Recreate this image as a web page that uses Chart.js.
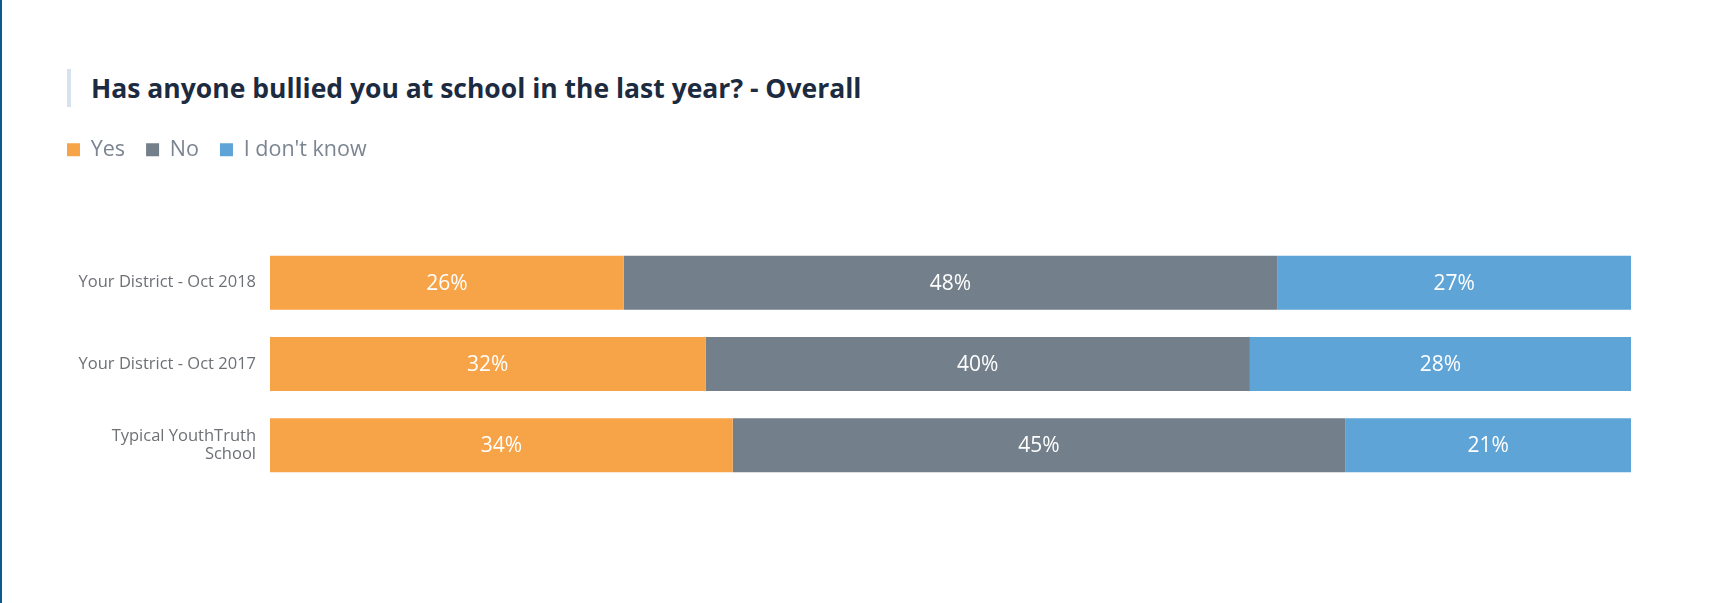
<!DOCTYPE html>
<html>
<head>
<meta charset="utf-8">
<script src="https://cdn.jsdelivr.net/npm/chart.js@4"></script>
<style>
  html, body { margin: 0; padding: 0; background: #fff; }
  body { width: 1729px; height: 603px; position: relative; overflow: hidden; }
  #edge { position: absolute; left: 0; top: 0; width: 2px; height: 603px; background: #0b5c8e; }
  #title {
    position: absolute; left: 67px; top: 69px; height: 38px;
    border-left: 4px solid #d6e3ef; padding-left: 20px;
    font: bold 26.5px/38px "Open Sans", sans-serif; color: #1c2b3f;
    white-space: nowrap;
  }
  #wrap { position: absolute; left: 0; top: 0; width: 1729px; height: 603px; }
</style>
</head>
<body>
<div id="edge"></div>
<div id="title">Has anyone bullied you at school in the last year? - Overall</div>
<div id="wrap"><canvas id="chart"></canvas></div>
<script>
const categories = [
  "Your District - Oct 2018",
  "Your District - Oct 2017",
  ["Typical YouthTruth", "School"],
];
const yesValues = [26, 32, 34];
const noValues = [48, 40, 45];
const dontKnowValues = [27, 28, 21];

const ctx = document.getElementById("chart").getContext("2d");

// keeps a fixed gap between the legend row and the bars
const legendSpacer = {
  id: "legendSpacer",
  beforeInit(chart) {
    const originalFit = chart.legend.fit;
    chart.legend.fit = function fit() {
      originalFit.bind(chart.legend)();
      this.height = 124;
    };
  },
};

// white percentage text in the middle of each segment
const segmentLabels = {
  id: "segmentLabels",
  afterDatasetsDraw(chart) {
    const c = chart.ctx;
    const area = chart.chartArea;
    c.save();
    c.fillStyle = "#ffffff";
    c.font = '21px "Open Sans", sans-serif';
    c.textAlign = "center";
    c.textBaseline = "middle";
    chart.data.datasets.forEach((ds, i) => {
      chart.getDatasetMeta(i).data.forEach((bar, j) => {
        const left = Math.max(Math.min(bar.base, bar.x), area.left);
        const right = Math.min(Math.max(bar.base, bar.x), area.right);
        c.fillText(ds.data[j] + "%", (left + right) / 2, bar.y + 1);
      });
    });
    c.restore();
  },
};

const chart = new Chart(ctx, {
  type: "bar",
  data: {
    labels: categories,
    datasets: [
      { label: "Yes", data: yesValues, backgroundColor: "#f7a348" },
      { label: "No", data: noValues, backgroundColor: "#737f8b" },
      { label: "I don't know", data: dontKnowValues, backgroundColor: "#5ea4d6" },
    ],
  },
  options: {
    indexAxis: "y",
    responsive: true,
    maintainAspectRatio: false,
    animation: false,
    layout: {
      padding: { left: 46, right: 98, top: 118, bottom: 117 },
    },
    datasets: {
      bar: { barPercentage: 1, categoryPercentage: 0.664, borderWidth: 0 },
    },
    scales: {
      x: {
        stacked: true,
        display: false,
        min: 0,
        max: 100,
      },
      y: {
        stacked: true,
        grid: { display: false, drawTicks: false },
        border: { display: false },
        ticks: {
          padding: 14,
          color: "#6d7075",
          font: { family: "Open Sans", size: 16.5, lineHeight: 1.05 },
        },
        afterFit(scale) {
          scale.width = 224;
        },
      },
    },
    plugins: {
      tooltip: { enabled: false },
      legend: {
        position: "top",
        align: "start",
        labels: {
          boxWidth: 13,
          boxHeight: 13,
          padding: 21,
          color: "#7b8591",
          font: { family: "Open Sans", size: 21.5 },
        },
      },
    },
  },
  plugins: [legendSpacer, segmentLabels],
});
</script>
</body>
</html>
